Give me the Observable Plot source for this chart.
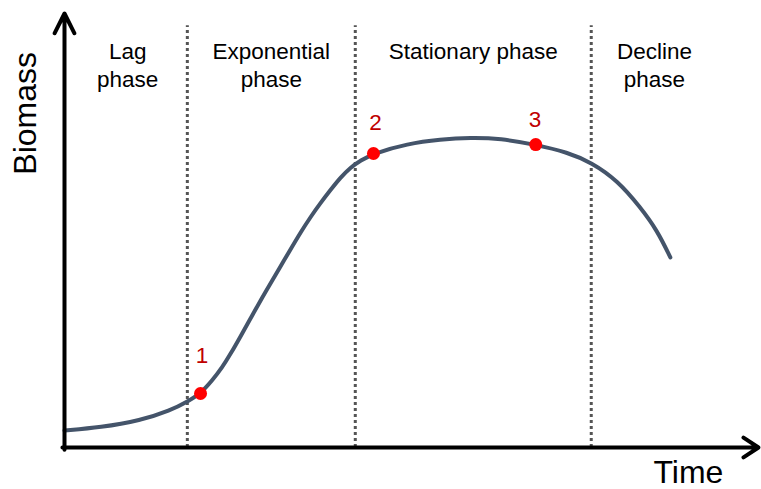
<!DOCTYPE html>
<html>
<head>
<meta charset="utf-8">
<script src="https://cdn.jsdelivr.net/npm/d3@7"></script>
<script src="https://cdn.jsdelivr.net/npm/@observablehq/plot@0.6"></script>
<style>
  html, body { margin: 0; padding: 0; background: #fff; }
  #chart svg { display: block; }
</style>
</head>
<body>
<div id="chart"></div>
<script>
// Growth curve (time, biomass) in arbitrary units 0–100
const curveTime =    [0, 5.19, 10.95, 15.27, 17.72, 19.6, 21.28, 22.72, 23.92, 25.36, 26.8, 28.24, 29.68, 31.12, 32.56, 34.01, 35.45, 36.89, 38.33, 39.77, 41.21, 42.65, 44.52, 49.4, 54.2, 58.5, 62.8, 67.9, 72.5, 75.9, 79.7, 83.0, 85.4, 87.3];
const curveBiomass = [3.92, 4.61, 6.22, 8.53, 10.6, 12.44, 15.44, 18.43, 21.54, 25.58, 29.72, 33.87, 37.79, 41.71, 45.62, 49.54, 53.11, 56.34, 59.33, 62.21, 64.52, 66.13, 67.74, 70.0, 71.0, 71.4, 71.2, 69.8, 68.0, 65.7, 61.5, 55.3, 50.0, 43.8];

// Sample points
const pointIds = ["1", "2", "3"];
const pointTime = [19.6, 44.52, 67.9];
const pointBiomass = [12.44, 67.74, 69.8];
const pointLabelTime = [19.8, 44.8, 67.8];
const pointLabelBiomass = [21.2, 74.8, 75.4];

// Phases
const phaseBounds = [17.7, 41.9, 75.9];
const phaseNames = ["Lag\nphase", "Exponential\nphase", "Stationary phase", "Decline\nphase"];
const phaseCenters = [9.1, 29.8, 58.9, 85.0];
const phaseLabelTop = 94.2;
const boundTop = 97.2;

// Axis titles
const axisTitles = ["Biomass", "Time"];
const axisTitleX = [-5.6, 89.9];
const axisTitleY = [77.0, -5.9];
const axisTitleRotate = [-90, 0];

const curve = curveTime.map((t, i) => ({t, b: curveBiomass[i]}));
const points = pointIds.map((id, i) => ({id, t: pointTime[i], b: pointBiomass[i], lt: pointLabelTime[i], lb: pointLabelBiomass[i]}));
const phases = phaseNames.map((name, i) => ({name, t: phaseCenters[i]}));
const titles = axisTitles.map((text, i) => ({text, t: axisTitleX[i], b: axisTitleY[i], r: axisTitleRotate[i]}));

const chart = Plot.plot({
  width: 761,
  height: 489,
  marginLeft: 64,
  marginRight: 3,
  marginTop: 13,
  marginBottom: 42,
  x: {domain: [0, 100], axis: null},
  y: {domain: [0, 100], axis: null},
  style: {fontFamily: "'Liberation Sans', Arial, sans-serif", background: "#fff", overflow: "visible"},
  marks: [
    Plot.ruleX(phaseBounds, {x: d => d, y1: 0, y2: boundTop, stroke: "#555555", strokeWidth: 3, strokeDasharray: "3,3"}),
    Plot.line(curve, {x: "t", y: "b", curve: "basis", stroke: "#44546A", strokeWidth: 4}),
    Plot.dot(points, {x: "t", y: "b", r: 6.5, fill: "#FF0000", stroke: "none"}),
    Plot.text(points, {x: "lt", y: "lb", text: "id", fill: "#C00000", fontSize: 22.5, textAnchor: "middle", lineAnchor: "middle"}),
    Plot.text(phases, {x: "t", y: phaseLabelTop, text: "name", fill: "#000", fontSize: 22.5, textAnchor: "middle", lineAnchor: "top", lineHeight: 1.25}),
    Plot.arrow([{x1: 0, y1: -0.5, x2: 0, y2: 100}], {x1: "x1", y1: "y1", x2: "x2", y2: "y2", stroke: "#000", strokeWidth: 4, headLength: 8.25, headAngle: 53}),
    Plot.arrow([{x1: -0.3, y1: 0, x2: 100, y2: 0}], {x1: "x1", y1: "y1", x2: "x2", y2: "y2", stroke: "#000", strokeWidth: 4, headLength: 6.75, headAngle: 67}),
    Plot.text(titles, {x: "t", y: "b", text: "text", rotate: "r", fill: "#000", fontSize: 32, textAnchor: "middle", lineAnchor: "middle", clip: false})
  ]
});
document.getElementById("chart").appendChild(chart);
</script>
</body>
</html>
